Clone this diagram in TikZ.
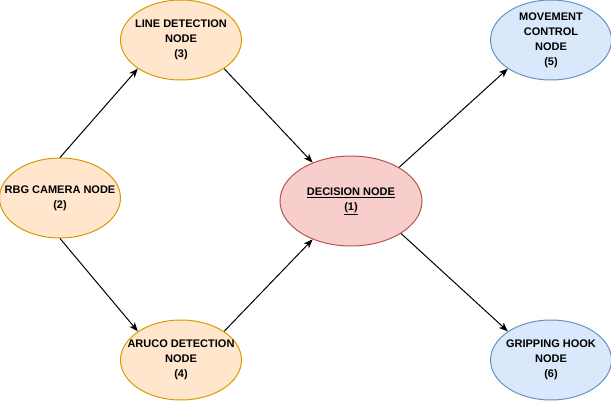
\documentclass[tikz,border=0pt]{standalone}
\usepackage{fontspec}
\setmainfont{Liberation Sans}
\usetikzlibrary{shapes.geometric,arrows.meta}
\definecolor{orfill}{HTML}{FFE6CC}
\definecolor{ordraw}{HTML}{D79B00}
\definecolor{rdfill}{HTML}{F8CECC}
\definecolor{rddraw}{HTML}{B85450}
\definecolor{blfill}{HTML}{DAE8FC}
\definecolor{bldraw}{HTML}{6C8EBF}
\begin{document}
\begin{tikzpicture}[x=1pt,y=-1pt,
    rosnode/.style={ellipse,draw,line width=1pt,inner xsep=-20pt,inner ysep=-10pt,
        minimum width=121pt,minimum height=80pt,align=center,
        font=\fontsize{11}{15}\selectfont\bfseries},
    ornode/.style={rosnode,fill=orfill,draw=ordraw},
    bluenode/.style={rosnode,fill=blfill,draw=bldraw},
    rednode/.style={rosnode,fill=rdfill,draw=rddraw,minimum width=142pt,minimum height=90pt},
    arr/.style={-{Stealth[length=9pt,width=7pt,inset=2.5pt]},line width=1pt}]
                    \useasboundingbox (0,0) rectangle (611,401);
                    \node[ornode] (cam) at (60,198) {RBG CAMERA NODE\\(2)};
                    \node[ornode] (line) at (181,40) {LINE DETECTION\\NODE\\(3)};
                    \node[ornode] (aru) at (181,360) {ARUCO DETECTION\\NODE\\(4)};
                    \node[rednode] (dec) at (351,201) {\underline{DECISION NODE}\\\underline{(1)}};
                    \node[bluenode] (mov) at (551,40) {MOVEMENT\\CONTROL\\NODE\\(5)};
                    \node[bluenode] (grip) at (551,360) {GRIPPING HOOK\\NODE\\(6)};
                    \draw[arr] (cam.north) -- (line.south west);
                    \draw[arr] (cam.south) -- (aru.north west);
                    \draw[arr] (line.south east) -- (dec.135);
                    \draw[arr] (aru.north east) -- (dec.225);
                    \draw[arr] (dec.35) -- (mov.south west);
                    \draw[arr] (dec.-33) -- (grip.north west);
                \end{tikzpicture}
\end{document}
